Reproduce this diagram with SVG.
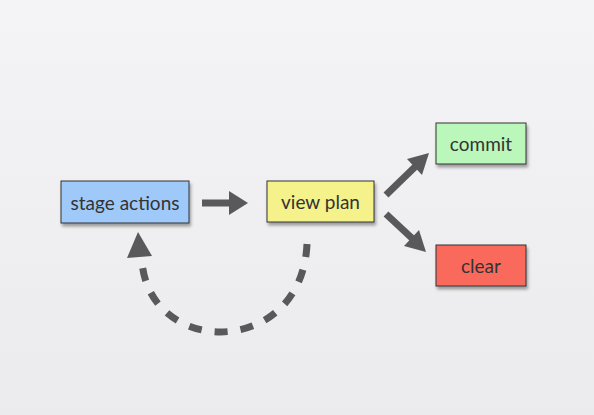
<svg xmlns="http://www.w3.org/2000/svg" width="594" height="415" viewBox="0 0 594 415">
<style>
.box{stroke:#333;stroke-width:1;filter:url(#sh)}
.lbl{font-family:Lato,"Open Sans","Liberation Sans",sans-serif;font-size:19px;fill:#333;text-anchor:middle;dominant-baseline:central}
.arr{stroke:#59595b;stroke-width:7;fill:none}
.head{fill:#59595b}
</style>
<defs>
<linearGradient id="bg" x1="0" y1="0" x2="0" y2="1">
<stop offset="0" stop-color="#f4f4f6"/>
<stop offset="1" stop-color="#ebebed"/>
</linearGradient>
<filter id="sh" x="-10%" y="-20%" width="130%" height="160%">
<feDropShadow dx="1.5" dy="3" stdDeviation="1.5" flood-color="#000" flood-opacity="0.35"/>
</filter>
</defs>
<rect width="594" height="415" fill="url(#bg)"/>
<g id="connectors">
<line class="arr" x1="202" y1="203" x2="234" y2="203"/>
<polygon class="head" points="248,203 229,191 229,215"/>
<line class="arr" x1="386" y1="195" x2="418" y2="164"/>
<polygon class="head" points="429,153 422,175 407,159"/>
<line class="arr" x1="386" y1="214" x2="415" y2="241"/>
<polygon class="head" points="426,252 404,246 419,230"/>
<path class="arr" d="M307 244 C302 358 150 358 142 262" stroke-dasharray="13 13"/>
<polygon class="head" points="138,232 127,258 152,256"/>
</g>
<g id="stage-actions">
<rect class="box" x="61" y="181" width="128" height="42" fill="#9fc9f9"/>
<text class="lbl" x="125" y="202">stage actions</text>
</g>
<g id="view-plan">
<rect class="box" x="267" y="181" width="107" height="41" fill="#f5f18b"/>
<text class="lbl" x="320.5" y="201.5">view plan</text>
</g>
<g id="commit">
<rect class="box" x="436" y="123" width="90" height="41" fill="#bbf6bb"/>
<text class="lbl" x="481" y="143.5">commit</text>
</g>
<g id="clear">
<rect class="box" x="436" y="245" width="90" height="41" fill="#f96b5b"/>
<text class="lbl" x="481" y="265.5">clear</text>
</g>
</svg>
